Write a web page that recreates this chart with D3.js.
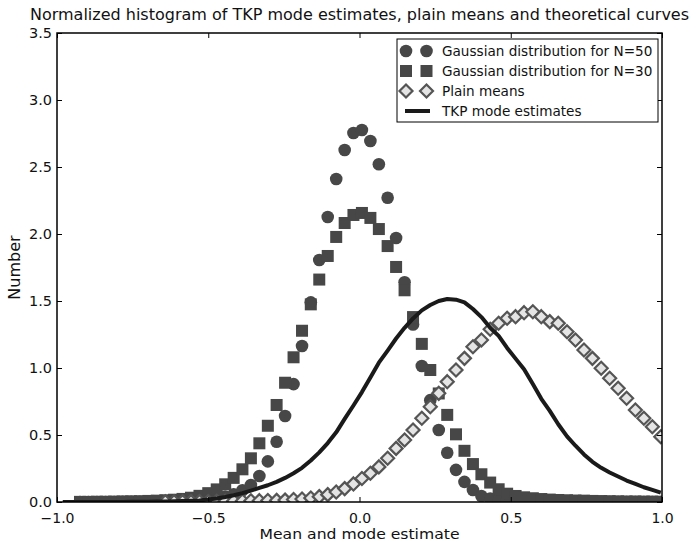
<!DOCTYPE html>
<html><head><meta charset="utf-8">
<script src="https://cdn.jsdelivr.net/npm/d3@7"></script>
<style>
body{margin:0;background:#fff}
svg text{font-family:"DejaVu Sans",sans-serif;fill:#111}
</style>
</head><body>
<svg id="chart" width="698" height="542"></svg>
<script>
// bin centers shared by all histograms
const binCenters = [-0.981,-0.952,-0.924,-0.896,-0.868,-0.839,-0.811,-0.783,-0.755,-0.726,
 -0.698,-0.670,-0.642,-0.613,-0.585,-0.557,-0.529,-0.500,-0.472,-0.444,
 -0.416,-0.387,-0.359,-0.331,-0.303,-0.274,-0.246,-0.218,-0.190,-0.161,
 -0.133,-0.105,-0.077,-0.049,-0.020,0.008,0.036,0.064,0.093,0.121,
 0.149,0.177,0.206,0.234,0.262,0.290,0.319,0.347,0.375,0.403,
 0.432,0.460,0.488,0.516,0.544,0.573,0.601,0.629,0.657,0.686,
 0.714,0.742,0.770,0.799,0.827,0.855,0.883,0.912,0.940,0.968,0.996];
// Gaussian distribution for N=50 (circles)
const gauss50 = [null,null,0.000,0.000,0.000,0.000,0.000,0.001,0.001,0.001,
 0.002,0.002,0.003,0.004,0.006,0.008,0.012,0.018,0.027,0.040,
 0.058,0.088,0.127,0.194,0.303,0.450,0.642,0.880,1.164,1.490,
 1.806,2.127,2.410,2.627,2.754,2.776,2.694,2.520,2.270,1.970,
 1.640,1.325,1.015,0.760,0.537,0.368,0.240,0.150,0.090,0.045,
 0.025,0.014,0.008,0.005,0.003,0.002,0.001,0.001,0.001,0.001,
 0.000,0.000,0.000,0.000,0.000,0.000,0.000,0.000,0.000,0.000,0.000];
// Gaussian distribution for N=30 (squares)
const gauss30 = [null,null,0.001,0.001,0.002,0.002,0.003,0.004,0.005,0.006,
 0.008,0.010,0.013,0.017,0.023,0.032,0.046,0.066,0.094,0.132,
 0.180,0.244,0.326,0.438,0.569,0.724,0.890,1.080,1.278,1.475,
 1.660,1.836,1.978,2.082,2.142,2.157,2.120,2.037,1.910,1.754,
 1.580,1.380,1.180,0.985,0.810,0.650,0.505,0.382,0.283,0.207,
 0.145,0.095,0.062,0.045,0.035,0.028,0.022,0.018,0.015,0.013,
 0.011,0.010,0.008,0.007,0.006,0.005,0.004,0.004,0.003,0.003,0.002];
// Plain means (diamonds)
const plainMeans = [null,null,null,null,null,null,null,null,null,null,
 null,null,0.002,0.002,0.003,0.003,0.004,0.004,0.005,0.006,
 0.007,0.008,0.009,0.010,0.011,0.012,0.014,0.018,0.022,0.030,
 0.040,0.055,0.075,0.100,0.135,0.175,0.215,0.262,0.326,0.400,
 0.463,0.537,0.625,0.711,0.811,0.898,0.985,1.072,1.159,1.209,
 1.289,1.334,1.371,1.383,1.413,1.420,1.383,1.346,1.334,1.271,
 1.209,1.134,1.072,0.998,0.923,0.849,0.774,0.687,0.625,0.562,0.487];
// TKP mode estimates (line)
const tkpMode = [0.000,0.000,0.000,0.000,0.000,0.000,0.000,0.000,0.001,0.001,
 0.002,0.003,0.004,0.005,0.007,0.009,0.012,0.018,0.026,0.037,
 0.050,0.066,0.085,0.105,0.125,0.150,0.180,0.215,0.255,0.310,
 0.370,0.440,0.520,0.620,0.720,0.820,0.930,1.040,1.130,1.220,
 1.300,1.370,1.430,1.470,1.500,1.515,1.510,1.490,1.440,1.380,
 1.300,1.240,1.150,1.070,0.990,0.880,0.770,0.680,0.580,0.490,
 0.420,0.355,0.300,0.255,0.220,0.190,0.160,0.135,0.110,0.090,0.070];

const xTicks = [-1.0,-0.5,0.0,0.5,1.0];
const yTicks = [0.0,0.5,1.0,1.5,2.0,2.5,3.0,3.5];
const titleText = "Normalized histogram of TKP mode estimates, plain means and theoretical curves";
const xLabel = "Mean and mode estimate";
const yLabel = "Number";
const legendLabels = ["Gaussian distribution for N=50","Gaussian distribution for N=30","Plain means","TKP mode estimates"];

const L=57, R=662, T=33, B=502;
const svg = d3.select("#chart");
const x = d3.scaleLinear().domain([-1,1]).range([L,R]);
const y = d3.scaleLinear().domain([0,3.5]).range([B,T]);

const markColor = "#474747";
const diamondPath = r => `M0,${-r}L${r},0L0,${r}L${-r},0Z`;

svg.append("defs").append("clipPath").attr("id","clip")
  .append("rect").attr("x",L).attr("y",T).attr("width",R-L).attr("height",B-T);

const plot = svg.append("g").attr("clip-path","url(#clip)");

function pts(arr){ return binCenters.map((c,i)=>({x:c,v:arr[i]})).filter(d=>d.v!==null); }

// circles
plot.append("g").selectAll("circle").data(pts(gauss50)).join("circle")
  .attr("cx",d=>x(d.x)).attr("cy",d=>y(d.v)).attr("r",6.3).attr("fill",markColor);
// squares
plot.append("g").selectAll("rect").data(pts(gauss30)).join("rect")
  .attr("x",d=>x(d.x)-6).attr("y",d=>y(d.v)-6).attr("width",12).attr("height",12).attr("fill",markColor);
// diamonds
plot.append("g").selectAll("path").data(pts(plainMeans)).join("path")
  .attr("transform",d=>`translate(${x(d.x)},${y(d.v)})`).attr("d",diamondPath(6.5))
  .attr("fill","#e4e4e4").attr("stroke","#555").attr("stroke-width",2.2);
// line
plot.append("path").datum(pts(tkpMode))
  .attr("d",d3.line().x(d=>x(d.x)).y(d=>y(d.v)))
  .attr("fill","none").attr("stroke","#1a1a1a").attr("stroke-width",4).attr("stroke-linejoin","round");

// axes (ticks inward)
const fmt = d3.format(".1f");
const ax = svg.append("g").attr("transform",`translate(0,${B})`)
  .call(d3.axisBottom(x).tickValues(xTicks).tickFormat(fmt).tickSize(-5).tickPadding(11.3));
const ay = svg.append("g").attr("transform",`translate(${L},0)`)
  .call(d3.axisLeft(y).tickValues(yTicks).tickFormat(fmt).tickSize(-5).tickPadding(5));
const axT = svg.append("g").attr("transform",`translate(0,${T})`)
  .call(d3.axisTop(x).tickValues(xTicks).tickFormat("").tickSize(-5));
const ayR = svg.append("g").attr("transform",`translate(${R},0)`)
  .call(d3.axisRight(y).tickValues(yTicks).tickFormat("").tickSize(-5));
[ax,ay,axT,ayR].forEach(g=>{
  g.select(".domain").remove();
  g.selectAll(".tick line").attr("stroke","#000").attr("stroke-width",1);
  g.selectAll(".tick text").attr("font-family","DejaVu Sans").attr("fill","#111");
});
ax.selectAll(".tick text").attr("font-size",14);
ay.selectAll(".tick text").attr("font-size",14.5);
svg.append("rect").attr("x",L).attr("y",T).attr("width",R-L).attr("height",B-T)
  .attr("fill","none").attr("stroke","#000").attr("stroke-width",1.5);

// title and labels
svg.append("text").attr("x",(L+R)/2).attr("y",20.3).attr("text-anchor","middle")
  .attr("font-size",16).text(titleText);
svg.append("text").attr("x",(L+R)/2).attr("y",538.9).attr("text-anchor","middle")
  .attr("font-size",13.2).attr("textLength",200).attr("lengthAdjust","spacingAndGlyphs").text(xLabel);
svg.append("text").attr("transform",`translate(20,${(T+B)/2}) rotate(-90)`).attr("text-anchor","middle")
  .attr("font-size",16).text(yLabel);

// legend
const lg = svg.append("g");
lg.append("rect").attr("x",397).attr("y",39).attr("width",261).attr("height",83)
  .attr("fill","#fff").attr("stroke","#000").attr("stroke-width",1);
const rows = [51,71,91,111];
const mx = [406,426.5];
mx.forEach(m=>{
  lg.append("circle").attr("cx",m).attr("cy",rows[0]).attr("r",6.3).attr("fill",markColor);
  lg.append("rect").attr("x",m-6).attr("y",rows[1]-6).attr("width",12).attr("height",12).attr("fill",markColor);
  lg.append("path").attr("transform",`translate(${m},${rows[2]})`).attr("d",diamondPath(6.5))
    .attr("fill","#e4e4e4").attr("stroke","#555").attr("stroke-width",2.2);
});
lg.append("line").attr("x1",405).attr("x2",430).attr("y1",rows[3]).attr("y2",rows[3])
  .attr("stroke","#1a1a1a").attr("stroke-width",4);
legendLabels.forEach((t,i)=>{
  lg.append("text").attr("x",442).attr("y",rows[i]+5).attr("font-size",13.6).text(t);
});
</script>
</body></html>
